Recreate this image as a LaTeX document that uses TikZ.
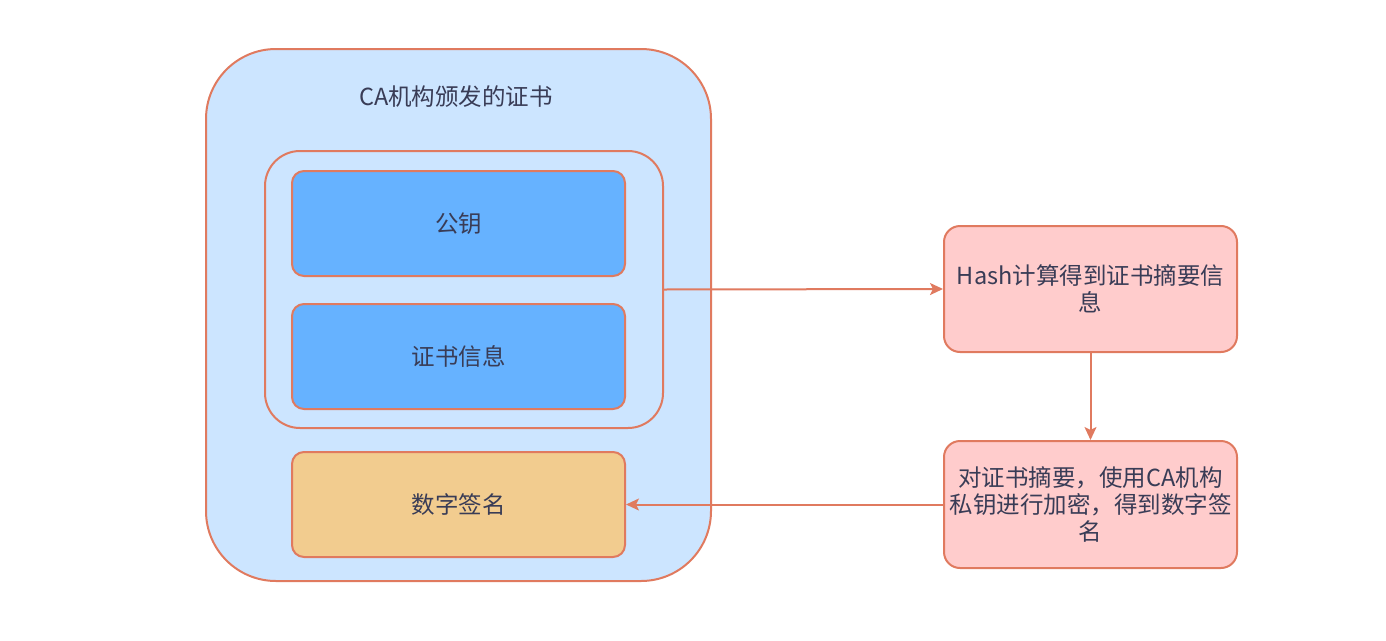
\documentclass[tikz,border=0pt]{standalone}
\usepackage{fontspec}
\setmainfont{Noto Sans CJK SC}
\usetikzlibrary{arrows.meta}
\definecolor{strk}{HTML}{E07A5F}
\definecolor{lblue}{HTML}{CCE5FF}
\definecolor{mblue}{HTML}{66B2FF}
\definecolor{sand}{HTML}{F2CC8F}
\definecolor{pink}{HTML}{FFCCCC}
\definecolor{txt}{HTML}{393C56}
\tikzset{
  box/.style={draw=strk, line width=2pt, text=txt, align=center,
    font=\fontsize{23.5}{27}\selectfont, inner sep=0pt},
  conn/.style={draw=strk, line width=2pt, -{Stealth[length=13pt,width=12pt,inset=3pt]}},
}
\begin{document}
\begin{tikzpicture}[x=1pt,y=-1pt]
\useasboundingbox (0,0) rectangle (1386,640);
\node[box, fill=lblue, minimum width=505pt, minimum height=532pt, rounded corners=70pt] (outer) at (458.5,315) {};
\node[box, draw=none] (title) at (456,97) {CA机构颁发的证书};
\node[box, fill=lblue, minimum width=398pt, minimum height=277pt, rounded corners=35pt] (group) at (464,289.5) {};
\node[box, fill=mblue, minimum width=333pt, minimum height=105pt, rounded corners=12pt] (pub) at (458.5,223.5) {公钥};
\node[box, fill=mblue, minimum width=333pt, minimum height=105pt, rounded corners=12pt] (info) at (458.5,356.5) {证书信息};
\node[box, fill=sand, minimum width=333pt, minimum height=105pt, rounded corners=12pt] (sig) at (458.5,504.5) {数字签名};
\node[box, fill=pink, minimum width=293pt, minimum height=126pt, rounded corners=16pt] (hash) at (1090.5,289) {Hash计算得到证书摘要信\\息};
\node[box, fill=pink, minimum width=293pt, minimum height=127pt, rounded corners=16pt] (enc) at (1090.5,504.5) {对证书摘要，使用CA机构\\私钥进行加密，得到数字签\\名};
\draw[conn] (group.east) -- (hash.west);
\draw[conn] (hash.south) -- (enc.north);
\draw[conn] (enc.west) -- (sig.east);
\end{tikzpicture}
\end{document}
